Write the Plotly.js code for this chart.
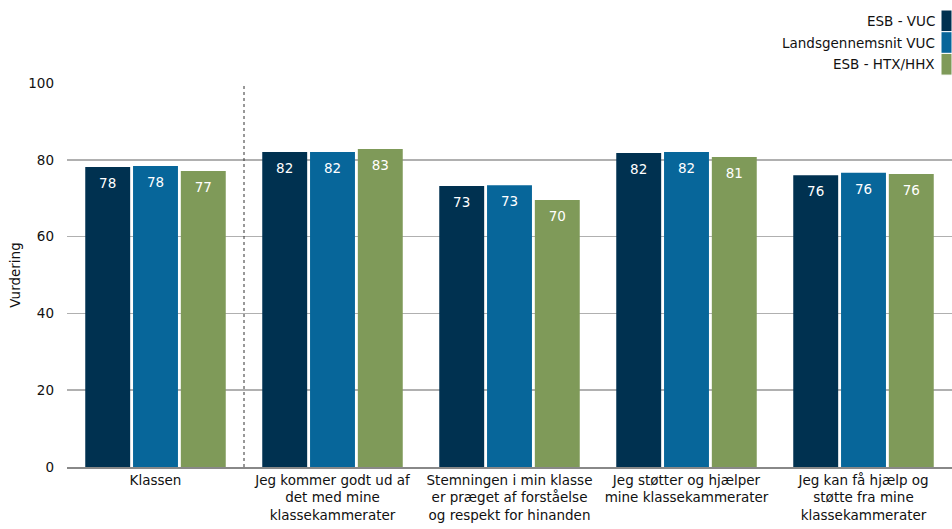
<!DOCTYPE html>
<html>
<head>
<meta charset="utf-8">
<script src="https://cdn.plot.ly/plotly-3.0.1.min.js"></script>
<style>html,body{margin:0;padding:0;background:#fff}#chart{width:952px;height:529px}</style>
</head>
<body>
<div id="chart"></div>
<script>
const categories = [
  "Klassen",
  "Jeg kommer godt ud af<br>det med mine<br>klassekammerater",
  "Stemningen i min klasse<br>er præget af forståelse<br>og respekt for hinanden",
  "Jeg støtter og hjælper<br>mine klassekammerater",
  "Jeg kan få hjælp og<br>støtte fra mine<br>klassekammerater"
];
const seriesNames = ["ESB - VUC", "Landsgennemsnit VUC", "ESB - HTX/HHX"];
const esbVuc = [78.1, 82.0, 73.2, 81.8, 76.0];
const landsVuc = [78.4, 82.0, 73.4, 82.0, 76.6];
const esbHtx = [77.1, 82.8, 69.5, 80.7, 76.3];
const esbVucLabels = ["78", "82", "73", "82", "76"];
const landsVucLabels = ["78", "82", "73", "82", "76"];
const esbHtxLabels = ["77", "83", "70", "81", "76"];
const yTicks = [0, 20, 40, 60, 80, 100];

const colors = ["#003150", "#07669a", "#7f9a59"];
const FAM = "DejaVu Sans, Verdana, sans-serif";
const values = [esbVuc, landsVuc, esbHtx];
const labels = [esbVucLabels, landsVucLabels, esbHtxLabels];

const data = [];
values.forEach((v, i) => {
  data.push({
    type: "bar",
    name: seriesNames[i],
    x: categories,
    y: v,
    marker: {color: colors[i]},
    hoverinfo: "skip",
    showlegend: false
  });
});
values.forEach((v, i) => {
  data.push({
    type: "scatter",
    mode: "markers+text",
    x: categories,
    y: v,
    text: labels[i],
    textposition: "bottom center",
    textfont: {color: "#ffffff", size: 13.5, family: FAM},
    marker: {size: 16, opacity: 0, color: colors[i]},
    hoverinfo: "skip",
    showlegend: false
  });
});

const shapes = [{
  type: "line", xref: "x", yref: "y",
  x0: 0.5, x1: 0.5, y0: 0, y1: 100,
  line: {color: "#333333", width: 1, dash: "dot"}
}];
const annotations = [];
const px = p => (p - 67) / 885;
const py = q => (467 - q) / 384;
seriesNames.forEach((n, i) => {
  const top = 10 + i * 21.7;
  shapes.push({
    type: "rect", xref: "paper", yref: "paper",
    x0: px(941), x1: px(952),
    y0: py(top), y1: py(top + 21.7),
    fillcolor: colors[i], line: {width: 1, color: "#ffffff"}
  });
  annotations.push({
    xref: "paper", yref: "paper",
    x: px(937), y: py(top + 11),
    xanchor: "right", yanchor: "middle",
    text: n, showarrow: false,
    font: {family: FAM, size: 13.5, color: "#111111"}
  });
});

const layout = {
  width: 952, height: 529,
  margin: {l: 67, r: 0, t: 83, b: 62},
  paper_bgcolor: "#ffffff", plot_bgcolor: "#ffffff",
  barmode: "group", bargap: 0.19, bargroupgap: 0.06,
  scattermode: "group", scattergap: 0.19,
  font: {family: FAM, size: 13.5, color: "#111111"},
  xaxis: {
    type: "category",
    showline: true, linecolor: "#888888", linewidth: 1.5,
    ticks: "", showgrid: false,
    tickfont: {size: 13.5, family: FAM, color: "#111111"}
  },
  yaxis: {
    range: [0, 100], tickvals: yTicks,
    showgrid: true, gridcolor: "#b0b0b0", gridwidth: 1.5,
    zeroline: false, showline: false, ticks: "",
    ticklabelstandoff: 12,
    tickfont: {size: 13.5, family: FAM, color: "#111111"},
    title: {text: "Vurdering", standoff: 4, font: {size: 13.5, family: FAM, color: "#111111"}}
  },
  shapes: shapes,
  annotations: annotations
};

Plotly.newPlot("chart", data, layout, {displayModeBar: false, staticPlot: true});
</script>
</body>
</html>
